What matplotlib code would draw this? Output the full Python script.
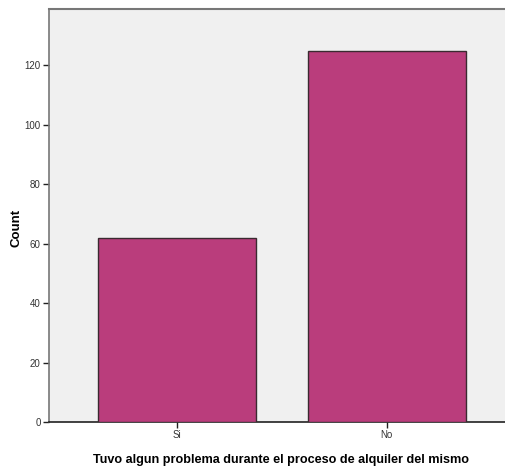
import matplotlib
matplotlib.use("Agg")
import matplotlib.pyplot as plt

categories = ["Si", "No"]
counts = [62, 125]
yticks = [0, 20, 40, 60, 80, 100, 120]

plt.rcParams['font.family'] = ['Liberation Sans', 'DejaVu Sans']

fig = plt.figure(figsize=(5.06, 4.66), dpi=100)
ax = fig.add_axes([49/506, 44/466, 457/506, 413/466])
ax.set_facecolor('#F0F0F0')

x = list(range(len(categories)))
ax.bar(x, counts, width=0.754, color='#BA3D7C', edgecolor='#3a2a30', linewidth=1.0, zorder=3)

ax.set_xlim(-0.611, 1.570)
ax.set_ylim(0, 139)
ax.set_xticks(x)
ax.set_xticklabels(categories, fontsize=7, color='#333333')
ax.set_yticks(yticks)
ax.set_yticklabels([str(v) for v in yticks], fontsize=7, color='#333333')
ax.tick_params(axis='both', length=4, width=1, color='#222222', pad=2)

ax.spines['right'].set_visible(False)
ax.spines['top'].set_color('#777777')
ax.spines['top'].set_linewidth(1.5)
ax.spines['left'].set_color('#777777')
ax.spines['left'].set_linewidth(1.2)
ax.spines['bottom'].set_color('#222222')
ax.spines['bottom'].set_linewidth(1.2)

ax.set_xlabel("Tuvo algun problema durante el proceso de alquiler del mismo",
              fontsize=9.1, fontweight='bold', va='center')
ax.xaxis.set_label_coords((281 - 49) / 457, (422 - 460) / 413)
ax.set_ylabel("Count", fontsize=9.5, fontweight='bold', va='center')
ax.yaxis.set_label_coords((17 - 49) / 457, (422 - 228) / 413)

fig.savefig("out.png", dpi=100)
